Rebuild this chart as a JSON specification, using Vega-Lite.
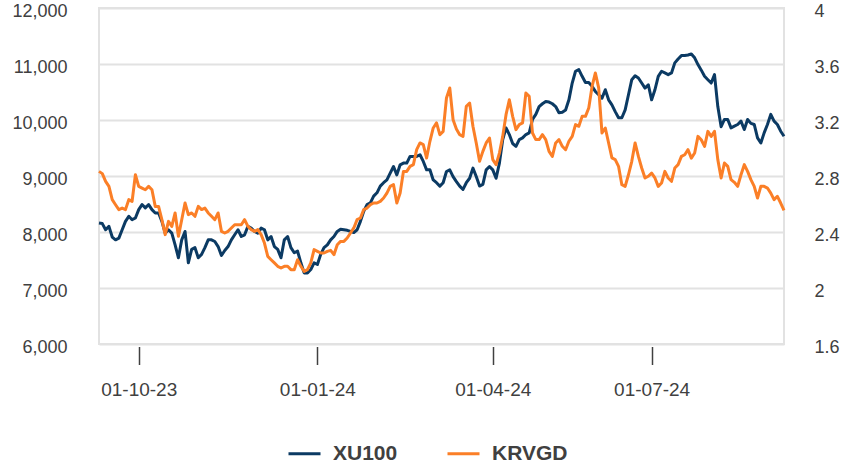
{
  "$schema": "https://vega.github.io/schema/vega-lite/v6.json",
  "width": 685,
  "height": 336,
  "autosize": "none",
  "padding": {"left": 99, "top": 8, "right": 57, "bottom": 123},
  "background": "white",
  "config": {
    "font": "Liberation Sans",
    "view": {"stroke": "#e2e2e2", "strokeWidth": 2}
  },
  "data": {
    "values": [
      {"date": "2023-09-10", "XU100": 8160, "KRVGD": 2.833},
      {"date": "2023-09-11", "XU100": 8150, "KRVGD": 2.817},
      {"date": "2023-09-13", "XU100": 8040, "KRVGD": 2.762},
      {"date": "2023-09-15", "XU100": 8100, "KRVGD": 2.726},
      {"date": "2023-09-17", "XU100": 7910, "KRVGD": 2.631},
      {"date": "2023-09-18", "XU100": 7860, "KRVGD": 2.595},
      {"date": "2023-09-20", "XU100": 7890, "KRVGD": 2.560},
      {"date": "2023-09-22", "XU100": 8040, "KRVGD": 2.571},
      {"date": "2023-09-24", "XU100": 8190, "KRVGD": 2.560},
      {"date": "2023-09-25", "XU100": 8280, "KRVGD": 2.631},
      {"date": "2023-09-27", "XU100": 8220, "KRVGD": 2.619},
      {"date": "2023-09-29", "XU100": 8250, "KRVGD": 2.809},
      {"date": "2023-10-01", "XU100": 8400, "KRVGD": 2.726},
      {"date": "2023-10-02", "XU100": 8490, "KRVGD": 2.714},
      {"date": "2023-10-04", "XU100": 8430, "KRVGD": 2.702},
      {"date": "2023-10-06", "XU100": 8490, "KRVGD": 2.726},
      {"date": "2023-10-08", "XU100": 8400, "KRVGD": 2.702},
      {"date": "2023-10-09", "XU100": 8340, "KRVGD": 2.583},
      {"date": "2023-10-11", "XU100": 8340, "KRVGD": 2.583},
      {"date": "2023-10-13", "XU100": 8190, "KRVGD": 2.488},
      {"date": "2023-10-14", "XU100": 7980, "KRVGD": 2.381},
      {"date": "2023-10-16", "XU100": 8040, "KRVGD": 2.476},
      {"date": "2023-10-18", "XU100": 7980, "KRVGD": 2.440},
      {"date": "2023-10-20", "XU100": 7770, "KRVGD": 2.536},
      {"date": "2023-10-21", "XU100": 7540, "KRVGD": 2.369},
      {"date": "2023-10-23", "XU100": 7860, "KRVGD": 2.488},
      {"date": "2023-10-25", "XU100": 8010, "KRVGD": 2.607},
      {"date": "2023-10-26", "XU100": 7450, "KRVGD": 2.524},
      {"date": "2023-10-28", "XU100": 7690, "KRVGD": 2.536},
      {"date": "2023-10-30", "XU100": 7720, "KRVGD": 2.512},
      {"date": "2023-11-01", "XU100": 7540, "KRVGD": 2.583},
      {"date": "2023-11-02", "XU100": 7600, "KRVGD": 2.560},
      {"date": "2023-11-04", "XU100": 7720, "KRVGD": 2.571},
      {"date": "2023-11-06", "XU100": 7860, "KRVGD": 2.536},
      {"date": "2023-11-08", "XU100": 7860, "KRVGD": 2.512},
      {"date": "2023-11-10", "XU100": 7830, "KRVGD": 2.488},
      {"date": "2023-11-12", "XU100": 7740, "KRVGD": 2.536},
      {"date": "2023-11-13", "XU100": 7580, "KRVGD": 2.405},
      {"date": "2023-11-15", "XU100": 7670, "KRVGD": 2.393},
      {"date": "2023-11-17", "XU100": 7740, "KRVGD": 2.405},
      {"date": "2023-11-19", "XU100": 7860, "KRVGD": 2.429},
      {"date": "2023-11-20", "XU100": 7950, "KRVGD": 2.452},
      {"date": "2023-11-22", "XU100": 8040, "KRVGD": 2.452},
      {"date": "2023-11-24", "XU100": 7920, "KRVGD": 2.452},
      {"date": "2023-11-25", "XU100": 7950, "KRVGD": 2.488},
      {"date": "2023-11-27", "XU100": 8100, "KRVGD": 2.440},
      {"date": "2023-11-29", "XU100": 8070, "KRVGD": 2.417},
      {"date": "2023-11-30", "XU100": 8010, "KRVGD": 2.405},
      {"date": "2023-12-02", "XU100": 7980, "KRVGD": 2.417},
      {"date": "2023-12-04", "XU100": 8070, "KRVGD": 2.381},
      {"date": "2023-12-06", "XU100": 8040, "KRVGD": 2.321},
      {"date": "2023-12-07", "XU100": 7860, "KRVGD": 2.226},
      {"date": "2023-12-09", "XU100": 7920, "KRVGD": 2.202},
      {"date": "2023-12-11", "XU100": 7740, "KRVGD": 2.179},
      {"date": "2023-12-13", "XU100": 7690, "KRVGD": 2.155},
      {"date": "2023-12-14", "XU100": 7540, "KRVGD": 2.143},
      {"date": "2023-12-16", "XU100": 7860, "KRVGD": 2.155},
      {"date": "2023-12-18", "XU100": 7920, "KRVGD": 2.155},
      {"date": "2023-12-19", "XU100": 7720, "KRVGD": 2.131},
      {"date": "2023-12-21", "XU100": 7630, "KRVGD": 2.131},
      {"date": "2023-12-23", "XU100": 7660, "KRVGD": 2.202},
      {"date": "2023-12-25", "XU100": 7450, "KRVGD": 2.155},
      {"date": "2023-12-26", "XU100": 7270, "KRVGD": 2.119},
      {"date": "2023-12-28", "XU100": 7270, "KRVGD": 2.131},
      {"date": "2023-12-30", "XU100": 7330, "KRVGD": 2.179},
      {"date": "2023-12-31", "XU100": 7450, "KRVGD": 2.274},
      {"date": "2024-01-02", "XU100": 7420, "KRVGD": 2.262},
      {"date": "2024-01-04", "XU100": 7600, "KRVGD": 2.250},
      {"date": "2024-01-06", "XU100": 7720, "KRVGD": 2.250},
      {"date": "2024-01-08", "XU100": 7770, "KRVGD": 2.262},
      {"date": "2024-01-10", "XU100": 7860, "KRVGD": 2.269},
      {"date": "2024-01-11", "XU100": 7920, "KRVGD": 2.238},
      {"date": "2024-01-13", "XU100": 8010, "KRVGD": 2.309},
      {"date": "2024-01-15", "XU100": 8050, "KRVGD": 2.333},
      {"date": "2024-01-17", "XU100": 8040, "KRVGD": 2.333},
      {"date": "2024-01-18", "XU100": 8030, "KRVGD": 2.357},
      {"date": "2024-01-20", "XU100": 8010, "KRVGD": 2.393},
      {"date": "2024-01-22", "XU100": 7990, "KRVGD": 2.429},
      {"date": "2024-01-23", "XU100": 8040, "KRVGD": 2.488},
      {"date": "2024-01-25", "XU100": 8190, "KRVGD": 2.500},
      {"date": "2024-01-27", "XU100": 8370, "KRVGD": 2.560},
      {"date": "2024-01-29", "XU100": 8490, "KRVGD": 2.571},
      {"date": "2024-01-30", "XU100": 8520, "KRVGD": 2.595},
      {"date": "2024-02-01", "XU100": 8640, "KRVGD": 2.607},
      {"date": "2024-02-03", "XU100": 8700, "KRVGD": 2.607},
      {"date": "2024-02-04", "XU100": 8820, "KRVGD": 2.619},
      {"date": "2024-02-06", "XU100": 8880, "KRVGD": 2.643},
      {"date": "2024-02-08", "XU100": 8930, "KRVGD": 2.678},
      {"date": "2024-02-10", "XU100": 9050, "KRVGD": 2.726},
      {"date": "2024-02-11", "XU100": 9170, "KRVGD": 2.738},
      {"date": "2024-02-13", "XU100": 9020, "KRVGD": 2.607},
      {"date": "2024-02-15", "XU100": 9200, "KRVGD": 2.678},
      {"date": "2024-02-16", "XU100": 9230, "KRVGD": 2.833},
      {"date": "2024-02-18", "XU100": 9230, "KRVGD": 2.833},
      {"date": "2024-02-20", "XU100": 9350, "KRVGD": 2.869},
      {"date": "2024-02-22", "XU100": 9350, "KRVGD": 2.881},
      {"date": "2024-02-23", "XU100": 9350, "KRVGD": 2.988},
      {"date": "2024-02-25", "XU100": 9380, "KRVGD": 3.036},
      {"date": "2024-02-27", "XU100": 9260, "KRVGD": 3.024},
      {"date": "2024-02-28", "XU100": 9110, "KRVGD": 2.928},
      {"date": "2024-03-01", "XU100": 9110, "KRVGD": 3.048},
      {"date": "2024-03-03", "XU100": 8930, "KRVGD": 3.143},
      {"date": "2024-03-04", "XU100": 8880, "KRVGD": 3.179},
      {"date": "2024-03-05", "XU100": 8820, "KRVGD": 3.095},
      {"date": "2024-03-07", "XU100": 8880, "KRVGD": 3.119},
      {"date": "2024-03-09", "XU100": 9080, "KRVGD": 3.357},
      {"date": "2024-03-11", "XU100": 9110, "KRVGD": 3.429},
      {"date": "2024-03-12", "XU100": 8990, "KRVGD": 3.202},
      {"date": "2024-03-14", "XU100": 8900, "KRVGD": 3.136},
      {"date": "2024-03-16", "XU100": 8820, "KRVGD": 3.095},
      {"date": "2024-03-17", "XU100": 8760, "KRVGD": 3.083},
      {"date": "2024-03-19", "XU100": 8880, "KRVGD": 3.298},
      {"date": "2024-03-21", "XU100": 8960, "KRVGD": 3.321},
      {"date": "2024-03-23", "XU100": 9140, "KRVGD": 3.155},
      {"date": "2024-03-24", "XU100": 8990, "KRVGD": 3.036},
      {"date": "2024-03-26", "XU100": 8820, "KRVGD": 2.905},
      {"date": "2024-03-28", "XU100": 8850, "KRVGD": 2.976},
      {"date": "2024-03-29", "XU100": 9110, "KRVGD": 3.036},
      {"date": "2024-03-31", "XU100": 9170, "KRVGD": 3.071},
      {"date": "2024-04-02", "XU100": 9110, "KRVGD": 2.917},
      {"date": "2024-04-04", "XU100": 8960, "KRVGD": 2.881},
      {"date": "2024-04-06", "XU100": 9230, "KRVGD": 2.964},
      {"date": "2024-04-08", "XU100": 9650, "KRVGD": 3.083},
      {"date": "2024-04-10", "XU100": 9860, "KRVGD": 3.238},
      {"date": "2024-04-12", "XU100": 9740, "KRVGD": 3.345},
      {"date": "2024-04-14", "XU100": 9580, "KRVGD": 3.226},
      {"date": "2024-04-16", "XU100": 9530, "KRVGD": 3.131},
      {"date": "2024-04-17", "XU100": 9650, "KRVGD": 3.167},
      {"date": "2024-04-19", "XU100": 9680, "KRVGD": 3.179},
      {"date": "2024-04-21", "XU100": 9740, "KRVGD": 3.393},
      {"date": "2024-04-23", "XU100": 9770, "KRVGD": 3.369},
      {"date": "2024-04-25", "XU100": 10010, "KRVGD": 3.107},
      {"date": "2024-04-27", "XU100": 10100, "KRVGD": 3.060},
      {"date": "2024-04-29", "XU100": 10240, "KRVGD": 3.060},
      {"date": "2024-05-01", "XU100": 10290, "KRVGD": 3.095},
      {"date": "2024-05-03", "XU100": 10330, "KRVGD": 3.060},
      {"date": "2024-05-05", "XU100": 10320, "KRVGD": 2.976},
      {"date": "2024-05-06", "XU100": 10290, "KRVGD": 2.940},
      {"date": "2024-05-08", "XU100": 10240, "KRVGD": 3.036},
      {"date": "2024-05-10", "XU100": 10130, "KRVGD": 3.060},
      {"date": "2024-05-12", "XU100": 10140, "KRVGD": 3.012},
      {"date": "2024-05-14", "XU100": 10180, "KRVGD": 2.988},
      {"date": "2024-05-16", "XU100": 10360, "KRVGD": 3.048},
      {"date": "2024-05-17", "XU100": 10660, "KRVGD": 3.083},
      {"date": "2024-05-19", "XU100": 10870, "KRVGD": 3.167},
      {"date": "2024-05-21", "XU100": 10900, "KRVGD": 3.155},
      {"date": "2024-05-23", "XU100": 10780, "KRVGD": 3.226},
      {"date": "2024-05-25", "XU100": 10670, "KRVGD": 3.226},
      {"date": "2024-05-27", "XU100": 10670, "KRVGD": 3.286},
      {"date": "2024-05-29", "XU100": 10600, "KRVGD": 3.440},
      {"date": "2024-05-30", "XU100": 10510, "KRVGD": 3.536},
      {"date": "2024-05-31", "XU100": 10450, "KRVGD": 3.430},
      {"date": "2024-06-02", "XU100": 10390, "KRVGD": 3.107},
      {"date": "2024-06-04", "XU100": 10540, "KRVGD": 3.143},
      {"date": "2024-06-06", "XU100": 10360, "KRVGD": 3.036},
      {"date": "2024-06-08", "XU100": 10270, "KRVGD": 2.929},
      {"date": "2024-06-10", "XU100": 10150, "KRVGD": 2.917},
      {"date": "2024-06-12", "XU100": 10040, "KRVGD": 2.869},
      {"date": "2024-06-13", "XU100": 10040, "KRVGD": 2.738},
      {"date": "2024-06-15", "XU100": 10180, "KRVGD": 2.726},
      {"date": "2024-06-17", "XU100": 10450, "KRVGD": 2.809},
      {"date": "2024-06-19", "XU100": 10720, "KRVGD": 2.905},
      {"date": "2024-06-21", "XU100": 10790, "KRVGD": 3.036},
      {"date": "2024-06-23", "XU100": 10750, "KRVGD": 2.940},
      {"date": "2024-06-25", "XU100": 10660, "KRVGD": 2.857},
      {"date": "2024-06-27", "XU100": 10570, "KRVGD": 2.786},
      {"date": "2024-06-29", "XU100": 10630, "KRVGD": 2.798},
      {"date": "2024-07-01", "XU100": 10360, "KRVGD": 2.821},
      {"date": "2024-07-03", "XU100": 10540, "KRVGD": 2.786},
      {"date": "2024-07-04", "XU100": 10780, "KRVGD": 2.726},
      {"date": "2024-07-06", "XU100": 10870, "KRVGD": 2.750},
      {"date": "2024-07-08", "XU100": 10840, "KRVGD": 2.833},
      {"date": "2024-07-09", "XU100": 10810, "KRVGD": 2.786},
      {"date": "2024-07-10", "XU100": 10840, "KRVGD": 2.762},
      {"date": "2024-07-12", "XU100": 11020, "KRVGD": 2.857},
      {"date": "2024-07-14", "XU100": 11090, "KRVGD": 2.881},
      {"date": "2024-07-15", "XU100": 11150, "KRVGD": 2.940},
      {"date": "2024-07-17", "XU100": 11150, "KRVGD": 2.952},
      {"date": "2024-07-19", "XU100": 11160, "KRVGD": 2.988},
      {"date": "2024-07-20", "XU100": 11180, "KRVGD": 2.928},
      {"date": "2024-07-22", "XU100": 11110, "KRVGD": 2.964},
      {"date": "2024-07-24", "XU100": 10990, "KRVGD": 3.083},
      {"date": "2024-07-25", "XU100": 10890, "KRVGD": 3.059},
      {"date": "2024-07-27", "XU100": 10780, "KRVGD": 3.012},
      {"date": "2024-07-29", "XU100": 10720, "KRVGD": 3.119},
      {"date": "2024-07-30", "XU100": 10660, "KRVGD": 3.083},
      {"date": "2024-08-01", "XU100": 10810, "KRVGD": 3.119},
      {"date": "2024-08-03", "XU100": 10240, "KRVGD": 2.917},
      {"date": "2024-08-05", "XU100": 9880, "KRVGD": 2.786},
      {"date": "2024-08-06", "XU100": 10010, "KRVGD": 2.893},
      {"date": "2024-08-08", "XU100": 10010, "KRVGD": 2.869},
      {"date": "2024-08-10", "XU100": 9860, "KRVGD": 2.774},
      {"date": "2024-08-11", "XU100": 9890, "KRVGD": 2.755},
      {"date": "2024-08-13", "XU100": 9920, "KRVGD": 2.726},
      {"date": "2024-08-15", "XU100": 9980, "KRVGD": 2.809},
      {"date": "2024-08-16", "XU100": 9830, "KRVGD": 2.881},
      {"date": "2024-08-18", "XU100": 10010, "KRVGD": 2.833},
      {"date": "2024-08-20", "XU100": 9940, "KRVGD": 2.774},
      {"date": "2024-08-21", "XU100": 9920, "KRVGD": 2.726},
      {"date": "2024-08-23", "XU100": 9680, "KRVGD": 2.643},
      {"date": "2024-08-25", "XU100": 9590, "KRVGD": 2.726},
      {"date": "2024-08-27", "XU100": 9770, "KRVGD": 2.726},
      {"date": "2024-08-28", "XU100": 9920, "KRVGD": 2.714},
      {"date": "2024-08-30", "XU100": 10100, "KRVGD": 2.678},
      {"date": "2024-09-01", "XU100": 9980, "KRVGD": 2.631},
      {"date": "2024-09-02", "XU100": 9920, "KRVGD": 2.655},
      {"date": "2024-09-04", "XU100": 9800, "KRVGD": 2.607},
      {"date": "2024-09-06", "XU100": 9710, "KRVGD": 2.555}
    ]
  },
  "encoding": {
    "x": {
      "field": "date",
      "type": "ordinal",
      "title": null,
      "scale": {"type": "point", "padding": 0},
      "axis": {
        "values": ["2023-10-01", "2024-01-02", "2024-04-02", "2024-07-01"],
        "labelExpr": "datum.value == '2023-10-01' ? '01-10-23' : datum.value == '2024-01-02' ? '01-01-24' : datum.value == '2024-04-02' ? '01-04-24' : '01-07-24'",
        "labelAngle": 0,
        "domain": false,
        "grid": false,
        "ticks": true,
        "tickSize": 18,
        "tickWidth": 1.5,
        "tickColor": "#404040",
        "offset": 2.5,
        "labelPadding": 16,
        "labelFontSize": 19,
        "labelColor": "#404040",
        "labelFlush": false,
        "labelOverlap": false
      }
    }
  },
  "layer": [
    {
      "mark": {"type": "line", "strokeWidth": 3, "strokeJoin": "round"},
      "encoding": {
        "y": {
          "field": "XU100",
          "type": "quantitative",
          "title": null,
          "scale": {"domain": [6000, 12000], "nice": false, "zero": false},
          "axis": {
            "orient": "left",
            "values": [6000, 7000, 8000, 9000, 10000, 11000, 12000],
            "labelExpr": "format(datum.value, ',.0f')",
            "domain": false,
            "ticks": false,
            "tickSize": 0,
            "grid": true,
            "gridColor": "#e2e2e2",
            "gridWidth": 2,
            "labelPadding": 32,
            "labelFontSize": 18,
            "labelColor": "#404040",
            "labelOffset": 3
          }
        },
        "color": {
          "datum": "XU100",
          "type": "nominal",
          "scale": {"domain": ["XU100", "KRVGD"], "range": ["#0b3a63", "#fb7f27"]},
          "legend": {
            "title": null,
            "orient": "none",
            "legendX": 188,
            "legendY": 428,
            "direction": "horizontal",
            "symbolType": "stroke",
            "symbolSize": 1024,
            "symbolStrokeWidth": 3,
            "labelFontSize": 21,
            "labelFontWeight": "bold",
            "labelColor": "#404040",
            "labelOffset": 11,
            "labelLimit": 300,
            "columnPadding": 43,
            "padding": 0
          }
        }
      }
    },
    {
      "mark": {"type": "line", "strokeWidth": 3, "strokeJoin": "round"},
      "encoding": {
        "y": {
          "field": "KRVGD",
          "type": "quantitative",
          "title": null,
          "scale": {"domain": [1.6, 4], "nice": false, "zero": false},
          "axis": {
            "orient": "right",
            "values": [1.6, 2, 2.4, 2.8, 3.2, 3.6, 4],
            "format": ".2~f",
            "domain": false,
            "ticks": false,
            "tickSize": 0,
            "grid": false,
            "labelPadding": 30,
            "labelFontSize": 18,
            "labelColor": "#404040",
            "labelOffset": 3
          }
        },
        "color": {"datum": "KRVGD", "type": "nominal"}
      }
    }
  ],
  "resolve": {"scale": {"y": "independent"}}
}
